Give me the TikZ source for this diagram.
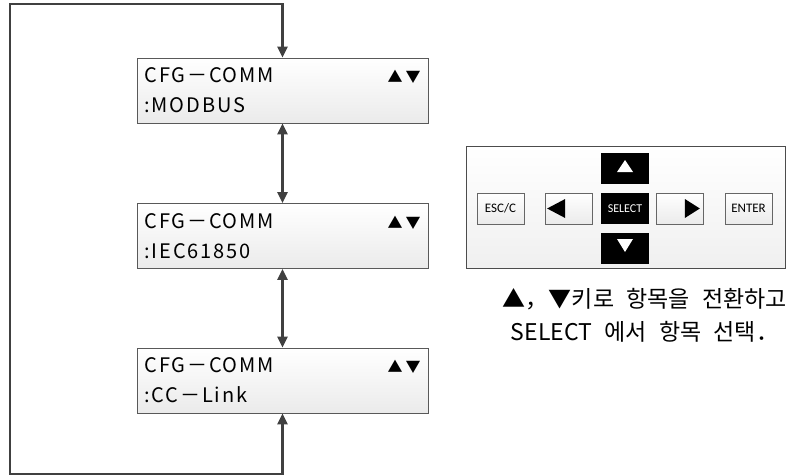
\documentclass[tikz,border=0pt]{standalone}
\usepackage{fontspec}
\setmainfont{Noto Sans CJK KR}
\newfontfamily\lcdfont{Noto Sans CJK KR}[LetterSpace=9]
\newfontfamily\hintfont{Noto Sans CJK KR}[WordSpace=2.4]
\newfontfamily\keyfont{Carlito}
\usetikzlibrary{arrows.meta}

\begin{document}
\begin{tikzpicture}[x=1pt,y=-1pt,
    lcd/.style={draw=black!65, line width=0.8pt, top color=white, bottom color=black!8,
        minimum width=291pt, minimum height=65pt, text width=276pt, align=left,
        inner sep=0pt, font=\lcdfont\fontsize{20}{30}\selectfont},
    key/.style={draw=black!60, line width=0.7pt, top color=white, bottom color=black!8,
        minimum width=47pt, minimum height=31pt, inner sep=0pt,
        font=\keyfont\fontsize{13}{13}\selectfont},
    darkkey/.style={fill=black, minimum width=48pt, minimum height=31pt, inner sep=0pt,
        text=white, font=\keyfont\fontsize{12}{12}\selectfont},
    flow/.style={draw=black!75, line width=2.6pt,
        {Triangle[width=10pt,length=11pt]}-{Triangle[width=10pt,length=11pt]}}]
        \useasboundingbox (0,0) rectangle (800,476);

        % menu screens
        \node[lcd] (modbus) at (282.5,90.5) {CFG－COMM\hfill{\fontsize{15}{15}\selectfont▲\hspace{3pt}▼}\\:MODBUS};
        \node[lcd] (iec) at (282.5,236) {CFG－COMM\hfill{\fontsize{15}{15}\selectfont▲\hspace{3pt}▼}\\:IEC61850};
        \node[lcd] (cclink) at (282.5,380.5) {CFG－COMM\hfill{\fontsize{15}{15}\selectfont▲\hspace{3pt}▼}\\:CC－Link};

        \draw[flow] (modbus.south) -- (iec.north);
        \draw[flow] (iec.south) -- (cclink.north);
        \coordinate (loopbl) at (10,474);
        \coordinate (looptl) at (10,4);
        \draw[flow] (cclink.south) |- (loopbl) -- (looptl) -| (modbus.north);

        % key panel
        \node[draw=black!70, line width=0.8pt, top color=white, bottom color=black!6,
            minimum width=319pt, minimum height=122pt] (panel) at (625.5,207) {};
        \node[key] (esc) at (500.5,208.5) {ESC/C};
        \node[key] (left) at (569,208.5) {};
        \node[darkkey] (select) at (625,208.5) {SELECT};
        \node[darkkey] (up) at (625,168.5) {};
        \node[darkkey] (down) at (625,248.5) {};
        \node[key] (right) at (680,208.5) {};
        \node[key] (enter) at (748.5,208.5) {ENTER};

        \fill ([xshift=2pt]left.west) -- ++(18,-9.5) -- ++(0,19) -- cycle;
        \fill ([xshift=-4pt]right.east) -- ++(-15,-9.5) -- ++(0,19) -- cycle;
        \fill[white] ([yshift=8.5pt]up.center) -- ++(8,12) -- ++(-16,0) -- cycle;
        \fill[white] ([yshift=-3.5pt]down.center) -- ++(8,-13) -- ++(-16,0) -- cycle;

        \node[font=\hintfont\fontsize{23}{33}\selectfont, align=center] (hint) at (645,315)
            {▲，▼키로 항목을 전환하고\\SELECT 에서 항목 선택．};
    \end{tikzpicture}
\end{document}
